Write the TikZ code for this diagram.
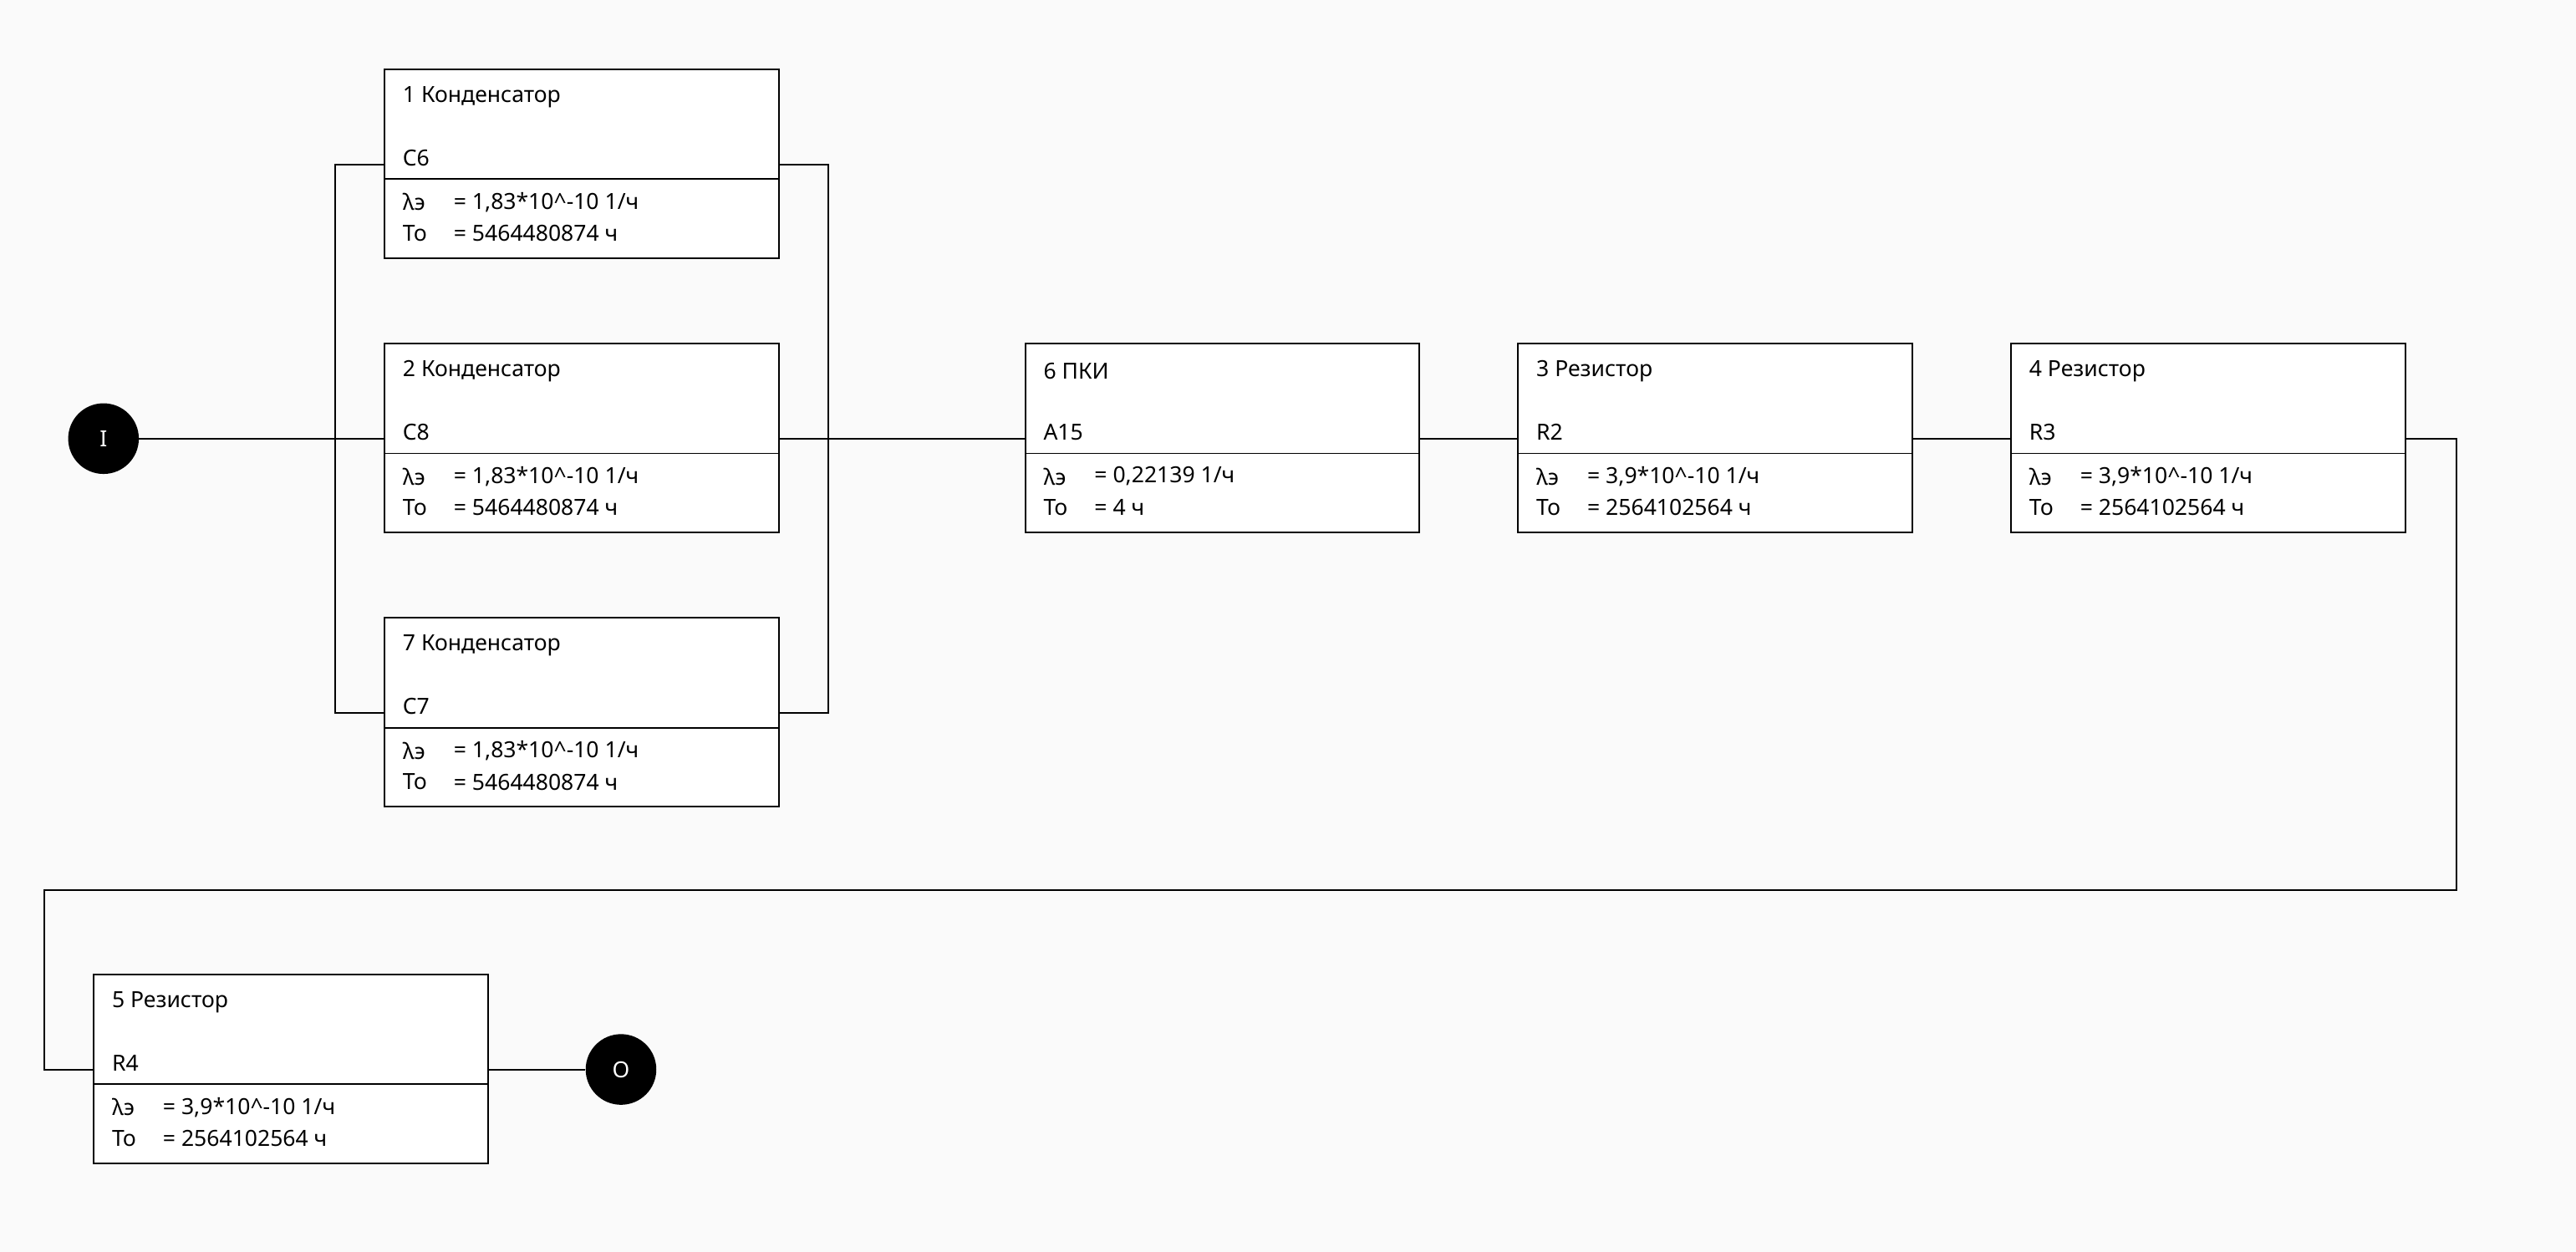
\documentclass[tikz,border=0pt]{standalone}
\usepackage{fontspec}
\setmainfont{Noto Sans}
\usetikzlibrary{positioning}
\tikzset{
  wire/.style={draw=black, line width=1pt},
  txt/.style={anchor=west, inner sep=0pt, font=\fontsize{13.5}{15}\selectfont},
  term/.style={circle, fill=black, minimum size=43pt, inner sep=0pt, text=white, font=\fontsize{13.5}{15}\selectfont}
}
% element box: name, left x, top y, title, code, lambda, To
\newcommand{\elembox}[7]{
  \draw[wire, fill=white] (#2,#3) rectangle ++(240,115);
  \draw[wire] (#2,#3+67) -- ++(240,0);
  \node[txt] (#1-t) at (#2+11,#3+17) {#4};
  \node[txt] (#1-c) at (#2+11,#3+54) {#5};
  \node[txt] at (#2+11,#3+81) {λэ};
  \node[txt] at (#2+42,#3+81) {= #6};
  \node[txt] at (#2+11,#3+100) {To};
  \node[txt] at (#2+42,#3+100) {= #7};
  \coordinate (#1-l) at (#2,#3+58);
  \coordinate (#1-r) at (#2+240,#3+58);
}
\begin{document}
\begin{tikzpicture}[x=1pt, y=-1pt]
\fill[black!2] (0,0) rectangle (1568,762);
\useasboundingbox (0,0) rectangle (1568,762);
\elembox{c1}{234}{42}{1 Конденсатор}{C6}{1,83*10\^{}-10 1/ч}{5464480874 ч}
\elembox{c2}{234}{209}{2 Конденсатор}{C8}{1,83*10\^{}-10 1/ч}{5464480874 ч}
\elembox{c7}{234}{376}{7 Конденсатор}{C7}{1,83*10\^{}-10 1/ч}{5464480874 ч}
\elembox{p6}{624}{209}{6 ПКИ}{A15}{0,22139 1/ч}{4 ч}
\elembox{r3}{924}{209}{3 Резистор}{R2}{3,9*10\^{}-10 1/ч}{2564102564 ч}
\elembox{r4}{1224}{209}{4 Резистор}{R3}{3,9*10\^{}-10 1/ч}{2564102564 ч}
\elembox{r5}{57}{593}{5 Резистор}{R4}{3,9*10\^{}-10 1/ч}{2564102564 ч}
\node[term] (in) at (63,267) {I};
\node[term] (out) at (378,651) {O};
\coordinate (lbus) at (204,267);
\coordinate (rbus) at (504,267);
\coordinate (turn) at (1495,542);
\coordinate (back) at (27,542);
% parallel group
\draw[wire] (in) -- (c2-l);
\draw[wire] (c1-l) -| (lbus) |- (c7-l);
\draw[wire] (c1-r) -| (rbus) |- (c7-r);
\draw[wire] (c2-r) -- (p6-l);
% series chain
\draw[wire] (p6-r) -- (r3-l);
\draw[wire] (r3-r) -- (r4-l);
\draw[wire] (r4-r) -| (turn) -- (back) |- (r5-l);
\draw[wire] (r5-r) -- (out);
\end{tikzpicture}
\end{document}
